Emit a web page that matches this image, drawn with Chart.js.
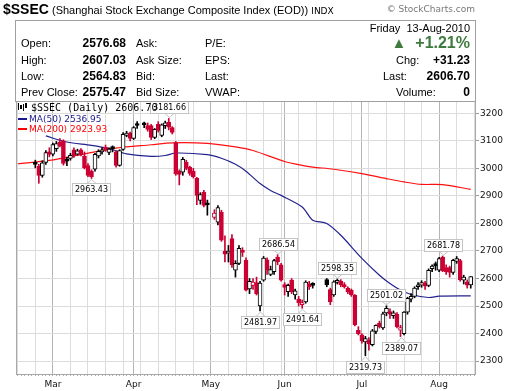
<!DOCTYPE html>
<html>
<head>
<meta charset="utf-8">
<script src="https://cdn.jsdelivr.net/npm/chart.js@4.4.0/dist/chart.umd.min.js"></script>
<style>
  body { margin: 0; background: #fff; }
  #wrap { position: relative; width: 520px; height: 391px; overflow: hidden; font-family: "Liberation Sans", Arial, sans-serif; color: #000; }
  #grafico { position: absolute; left: 0; top: 0; }
  .t { position: absolute; white-space: nowrap; line-height: 14px; font-size: 11px; }
  .b { font-weight: bold; font-size: 12px; }
  .r { text-align: right; }
  #caja { position: absolute; left: 15px; top: 20px; width: 461px; height: 82px; box-sizing: border-box; border: 1px solid #a0a0a0; }
</style>
</head>
<body>
<div id="wrap">
  <canvas id="grafico" width="520" height="391"></canvas>
  <div class="t" style="left:3px;top:1px;line-height:16px;">
    <span style="font-size:14px;font-weight:bold;">$SSEC</span>
    <span style="font-size:11px;">(Shanghai Stock Exchange Composite Index (EOD))</span>
    <span style="font-size:9px;font-family:'DejaVu Sans';">INDX</span>
  </div>
  <div class="t r" style="right:45px;top:2px;font-size:9px;font-family:'DejaVu Sans';color:#777;">&copy; StockCharts.com</div>
  <div id="caja"></div>
  <div class="t r" style="right:50px;top:21px;">Friday&nbsp; 13-Aug-2010</div>

  <div class="t" style="left:21px;top:36px;">Open:</div>
  <div class="t" style="left:21px;top:53px;">High:</div>
  <div class="t" style="left:21px;top:69px;">Low:</div>
  <div class="t" style="left:21px;top:85px;">Prev Close:</div>
  <div class="t b r" style="right:394px;top:36px;">2576.68</div>
  <div class="t b r" style="right:394px;top:53px;">2607.03</div>
  <div class="t b r" style="right:394px;top:69px;">2564.83</div>
  <div class="t b r" style="right:394px;top:85px;">2575.47</div>
  <div class="t" style="left:136px;top:36px;">Ask:</div>
  <div class="t" style="left:136px;top:53px;">Ask Size:</div>
  <div class="t" style="left:136px;top:69px;">Bid:</div>
  <div class="t" style="left:136px;top:85px;">Bid Size:</div>
  <div class="t" style="left:205px;top:36px;">P/E:</div>
  <div class="t" style="left:205px;top:53px;">EPS:</div>
  <div class="t" style="left:205px;top:69px;">Last:</div>
  <div class="t" style="left:205px;top:85px;">VWAP:</div>

  <div class="t r" style="right:50px;top:34px;font-size:16px;line-height:18px;font-weight:bold;color:#3d7a3d;"><span style="font-size:15px;">&#9650;</span>&nbsp; +1.21%</div>
  <div class="t" style="left:396px;top:53px;">Chg:</div>
  <div class="t b r" style="right:50px;top:53px;">+31.23</div>
  <div class="t" style="left:383px;top:69px;">Last:</div>
  <div class="t b r" style="right:50px;top:69px;">2606.70</div>
  <div class="t" style="left:396px;top:85px;">Volume:</div>
  <div class="t b r" style="right:50px;top:85px;">0</div>
</div>
<script>
// sesiones desde el 15-feb-2010 (dias habiles), los feriados quedan en null
const open = [
  null, null, null, null, null,
  3022, 3008, 2975, 3022, 3060,
  3052, 3072, 3096, 3100, 3032,
  3036, 3068, 3052, 3068, 3045,
  3010, 2990, 2997, 3045, 3060,
  3078, 3058, 3078, 3060, 3011,
  3069, 3120, 3128, 3109, 3162,
  null, 3165, 3156, 3156, 3113,
  3160, 3120, 3155, 3168, 3148,
  3094, 2990, 2986, 3022, 3004,
  2990, 2964, 2884, 2913, 2875,
  null, 2822, 2805, 2841, 2700,
  2692, 2745, 2630, 2655, 2700,
  2666, 2562, 2575, 2585, 2500,
  2594, 2668, 2615, 2625, 2678,
  2650, 2578, 2552, 2594, 2540,
  2525, 2505, 2515, 2580, 2580,
  null, null, null, 2596, 2560,
  2540, 2586, 2590, 2578, 2565,
  2558, 2540, 2412, 2395, 2370,
  2376, 2360, 2408, 2438, 2420,
  2475, 2480, 2465, 2470, 2412,
  2400, 2478, 2525, 2535, 2570,
  2576, 2584, 2575, 2636, 2652,
  2630, 2678, 2640, 2640, 2622,
  2662, 2665, 2594, 2588, 2576.68,
  null,
];
const high = [
  null, null, null, null, null,
  3030, 3015, 3028, 3065, 3075,
  3092, 3098, 3108, 3104, 3040,
  3055, 3075, 3070, 3072, 3060,
  3018, 2995, 3055, 3068, 3075,
  3085, 3075, 3082, 3065, 3068,
  3130, 3135, 3132, 3152, 3170,
  null, 3168, 3165, 3160, 3145,
  3170, 3162, 3172, 3181.66, 3152,
  3098, 2995, 3040, 3030, 3008,
  3000, 2968, 2912, 2920, 2885,
  null, 2850, 2865, 2848, 2755,
  2720, 2760, 2665, 2720, 2712,
  2675, 2600, 2600, 2605, 2590,
  2680, 2675, 2645, 2670, 2686.54,
  2655, 2585, 2580, 2600, 2562,
  2535, 2522, 2592, 2590, 2585,
  null, null, null, 2600, 2565,
  2592, 2598.35, 2596, 2585, 2570,
  2562, 2542, 2425, 2400, 2390,
  2385, 2415, 2432, 2445, 2478,
  2501.02, 2490, 2482, 2476, 2430,
  2480, 2532, 2545, 2570, 2585,
  2592, 2590, 2635, 2650, 2660,
  2677, 2681.78, 2650, 2645, 2670,
  2680, 2670, 2612, 2595, 2607.03,
  null,
];
const low = [
  null, null, null, null, null,
  3002, 2946, 2968, 3015, 3042,
  3045, 3062, 3078, 3012, 3010,
  3030, 3040, 3048, 3045, 2998,
  2970, 2963.43, 2990, 3038, 3052,
  3062, 3050, 3060, 3005, 3008,
  3065, 3115, 3100, 3105, 3145,
  null, 3148, 3135, 3105, 3108,
  3132, 3115, 3145, 3140, 3125,
  2975, 2940, 2975, 2995, 2975,
  2965, 2868, 2870, 2860, 2830,
  null, 2815, 2795, 2735, 2660,
  2660, 2640, 2605, 2650, 2680,
  2555, 2545, 2560, 2540, 2481.97,
  2590, 2615, 2610, 2615, 2650,
  2590, 2540, 2535, 2545, 2525,
  2500, 2491.64, 2510, 2560, 2565,
  null, null, null, 2570, 2505,
  2535, 2580, 2570, 2565, 2545,
  2535, 2428, 2395, 2365, 2319.73,
  2340, 2355, 2400, 2420, 2415,
  2465, 2455, 2455, 2420, 2389.07,
  2395, 2470, 2515, 2530, 2560,
  2568, 2560, 2570, 2625, 2630,
  2625, 2625, 2615, 2605, 2615,
  2655, 2590, 2580, 2565, 2564.83,
  null,
];
const close = [
  null, null, null, null, null,
  3015, 2975, 3020, 3058, 3051,
  3087, 3090, 3083, 3018, 3026,
  3048, 3047, 3064, 3050, 3002,
  2975, 2970, 3051, 3062, 3068,
  3065, 3070, 3072, 3011, 3065,
  3124, 3128, 3109, 3148, 3156,
  null, 3158, 3142, 3113, 3142,
  3138, 3158, 3166, 3150, 3131,
  2980, 2978, 3033, 3000, 2982,
  2970, 2902, 2905, 2866, 2868,
  null, 2838, 2858, 2739, 2688,
  2700, 2650, 2655, 2710, 2695,
  2558, 2590, 2587, 2545, 2583,
  2674, 2630, 2632, 2665, 2660,
  2594, 2568, 2575, 2552, 2555,
  2512, 2510, 2587, 2570, 2575,
  null, null, null, 2578, 2515,
  2588, 2593, 2578, 2570, 2552,
  2540, 2431, 2400, 2373, 2382,
  2362, 2410, 2430, 2425, 2472,
  2492, 2470, 2475, 2425, 2422,
  2478, 2528, 2535, 2565, 2575,
  2585, 2572, 2630, 2645, 2647,
  2672, 2628, 2625, 2622, 2666,
  2672, 2596, 2605, 2575.47, 2606.7,
  null,
];

// medias moviles: [sesion, valor]
const ma50 = [
  [8, 3118], [14, 3096], [21, 3084], [26, 3072], [31, 3053], [38, 3044],
  [42, 3047], [45, 3056], [54, 3050], [58, 3037], [62, 3015], [65, 2990],
  [69, 2945], [72, 2920], [75, 2902], [81, 2860], [84, 2812], [88, 2800],
  [92, 2757], [98, 2673], [103, 2612], [106, 2582], [109, 2558], [112, 2542],
  [117, 2531], [120, 2536], [129, 2537],
];
const ma200 = [
  [0, 3017], [9, 3029], [19, 3053], [28, 3074], [38, 3086], [44, 3093],
  [54, 3091], [62, 3078], [67, 3065], [76, 3025], [81, 3011], [84, 3005],
  [90, 2997], [98, 2981], [105, 2963], [110, 2951], [115, 2942], [121, 2941],
  [129, 2924],
];

// etiquetas de maximos y minimos: [sesion, valor, "alto" | "bajo"]
const marcas = [
  [21, 2963.43, "bajo"], [43, 3181.66, "alto"], [69, 2481.97, "bajo"],
  [74, 2686.54, "alto"], [81, 2491.64, "bajo"], [91, 2598.35, "alto"],
  [99, 2319.73, "bajo"], [105, 2501.02, "alto"], [109, 2389.07, "bajo"],
  [121, 2681.78, "alto"],
];

const yTicks = [2300, 2400, 2500, 2600, 2700, 2800, 2900, 3000, 3100, 3200];
const meses = ["Jan", "Feb", "Mar", "Apr", "May", "Jun", "Jul", "Aug", "Sep", "Oct", "Nov", "Dec"];

const dias = [];
const fecha = new Date(Date.UTC(2010, 1, 15));
while (dias.length < 131) {
  const wd = fecha.getUTCDay();
  if (wd !== 0 && wd !== 6) dias.push(fecha.toISOString().slice(0, 10));
  fecha.setUTCDate(fecha.getUTCDate() + 1);
}
const inicioMes = {};
for (let i = 1; i < dias.length; i++) {
  if (dias[i].slice(5, 7) !== dias[i - 1].slice(5, 7)) {
    inicioMes[i] = meses[Number(dias[i].slice(5, 7)) - 1];
  }
}

const ROJO = "#cc0033";
const colores = [];
const rellenos = [];
let cierreAnterior = null;
for (let i = 0; i < dias.length; i++) {
  if (close[i] === null) {
    colores.push(ROJO);
    rellenos.push("#fff");
    continue;
  }
  const col = cierreAnterior !== null && close[i] < cierreAnterior ? ROJO : "#000";
  colores.push(col);
  rellenos.push(close[i] > open[i] ? "#fff" : col);
  cierreAnterior = close[i];
}

const mechas = dias.map((d, i) => (low[i] === null ? null : [low[i], high[i]]));
const cuerpos = dias.map((d, i) =>
  open[i] === null ? null : [Math.min(open[i], close[i]), Math.max(open[i], close[i])]
);

const marco = {
  id: "marco",
  beforeDatasetsDraw(chart) {
    const { ctx, chartArea: a } = chart;
    ctx.save();
    ctx.strokeStyle = "#a8a8a8";
    ctx.lineWidth = 1;
    ctx.strokeRect(a.left + 0.5, a.top + 0.5, a.right - a.left - 1, a.bottom - a.top);
    ctx.restore();
  },
  afterDatasetsDraw(chart) {
    const { ctx } = chart;
    const xs = chart.scales.x;
    const ys = chart.scales.y;
    ctx.save();
    ctx.font = "8px 'DejaVu Sans'";
    ctx.textBaseline = "middle";
    ctx.textAlign = "center";
    for (const [i, v, tipo] of marcas) {
      const x = Math.round(xs.getPixelForValue(i));
      const y = ys.getPixelForValue(v);
      const txt = v.toFixed(2);
      const w = Math.round(ctx.measureText(txt).width) + 5;
      const h = 12;
      const top = tipo === "bajo" ? Math.round(y + 5) : Math.round(y - 5 - h);
      const edge = tipo === "bajo" ? top : top + h;
      const tip = tipo === "bajo" ? y + 1 : y - 1;
      ctx.fillStyle = "#fff";
      ctx.fillRect(x - w / 2, top, w, h);
      ctx.strokeStyle = "#c4c4c4";
      ctx.lineWidth = 1;
      ctx.strokeRect(Math.round(x - w / 2) + 0.5, top + 0.5, w, h);
      ctx.beginPath();
      ctx.moveTo(x - 4, edge + 0.5);
      ctx.lineTo(x + 0.5, tip);
      ctx.lineTo(x + 5, edge + 0.5);
      ctx.stroke();
      ctx.fillStyle = "#000";
      ctx.fillText(txt, x + 0.5, top + h / 2 + 1);
    }

    // leyenda
    ctx.textAlign = "left";
    ctx.fillStyle = "#000";
    ctx.fillRect(18, 103, 1, 7);
    ctx.fillRect(20, 105, 2, 4);
    ctx.fillRect(23, 104, 1, 7);
    ctx.fillRect(25, 103, 2, 5);
    ctx.font = "10px 'DejaVu Sans Mono'";
    ctx.fillText("$SSEC (Daily) 2606.70", 31, 108);
    ctx.font = "9px 'DejaVu Sans'";
    ctx.fillStyle = "#1a1a8c";
    ctx.fillRect(18, 118, 9, 2);
    ctx.fillText("MA(50) 2536.95", 29, 119.5);
    ctx.fillStyle = "#ff0000";
    ctx.fillRect(18, 128, 9, 2);
    ctx.fillText("MA(200) 2923.93", 29, 129.5);
    ctx.restore();
  },
};

const grafico = document.getElementById("grafico").getContext("2d");
const myChart = new Chart(grafico, {
  type: "bar",
  data: {
    labels: dias,
    datasets: [
      {
        type: "line",
        label: "MA(200)",
        data: ma200.map(([i, v]) => ({ x: dias[i], y: v })),
        borderColor: "#ff1010",
        borderWidth: 1.2,
        pointRadius: 0,
        tension: 0.3,
        order: 5,
      },
      {
        type: "line",
        label: "MA(50)",
        data: ma50.map(([i, v]) => ({ x: dias[i], y: v })),
        borderColor: "#22228f",
        borderWidth: 1.2,
        pointRadius: 0,
        tension: 0.3,
        order: 4,
      },
      {
        label: "mechas",
        data: mechas,
        backgroundColor: colores,
        barThickness: 1,
        grouped: false,
        order: 2,
      },
      {
        label: "cuerpos",
        data: cuerpos,
        backgroundColor: rellenos,
        borderColor: colores,
        borderWidth: 1,
        borderSkipped: false,
        barThickness: 4,
        minBarLength: 2,
        grouped: false,
        order: 1,
      },
    ],
  },
  options: {
    responsive: false,
    animation: false,
    layout: { padding: { left: 16, top: 101, right: 0, bottom: 0 } },
    plugins: { legend: { display: false }, tooltip: { enabled: false } },
    scales: {
      x: {
        type: "category",
        offset: true,
        afterFit(scale) {
          scale.height = 17;
        },
        border: { display: false },
        grid: {
          offset: false,
          color: (c) =>
            inicioMes[c.index] ? "#b4b4b4" : c.index % 5 === 0 ? "#dcdcdc" : "rgba(0,0,0,0)",
          tickColor: "#b0b0b0",
          tickLength: 2,
        },
        ticks: {
          autoSkip: false,
          maxRotation: 0,
          padding: 3,
          color: "#111",
          font: { family: "DejaVu Sans", size: 9 },
          callback: (v, i) => inicioMes[i] || "",
        },
      },
      y: {
        position: "right",
        min: 2253,
        max: 3245,
        afterBuildTicks(scale) {
          scale.ticks = yTicks.map((v) => ({ value: v }));
        },
        afterFit(scale) {
          scale.width = 44;
        },
        border: { display: false },
        grid: { color: "#dcdcdc", tickColor: "#999", tickLength: 3 },
        ticks: {
          padding: 1,
          color: "#111",
          font: { family: "DejaVu Sans", size: 9 },
          callback: (v) => String(v),
        },
      },
    },
  },
  plugins: [marco],
});
</script>
</body>
</html>
